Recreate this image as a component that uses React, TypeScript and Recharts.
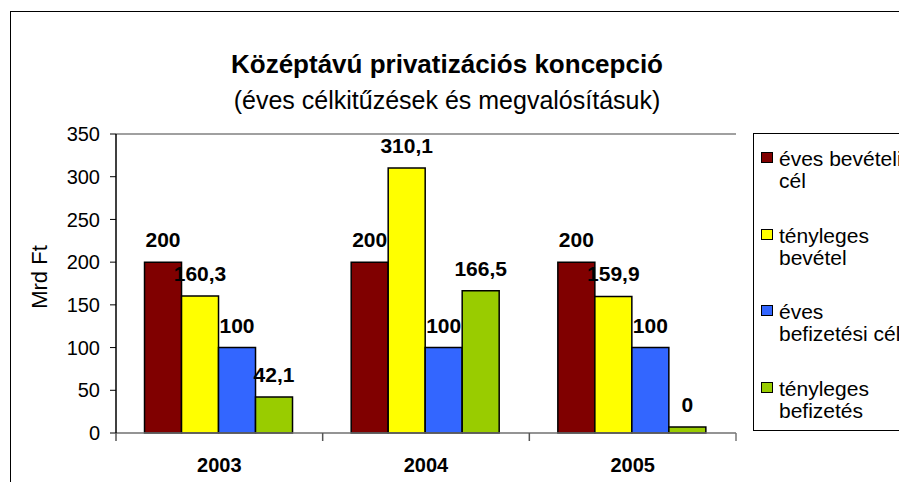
import React from 'react';
import { BarChart, Bar, XAxis, YAxis, LabelList, Legend, ReferenceLine } from 'recharts';

const categories = ['2003', '2004', '2005'];
const evesBeveteliCel = [200, 200, 200];
const tenylegesBevetel = [160.3, 310.1, 159.9];
const evesBefizetesiCel = [100, 100, 100];
const tenylegesBefizetes = [42.1, 166.5, 0];
const yTicks = [0, 50, 100, 150, 200, 250, 300, 350];

const seriesKeys = ['a', 'b', 'c', 'd'];
const seriesNames = ['éves bevételi cél', 'tényleges bevétel', 'éves befizetési cél', 'tényleges befizetés'];
const legendLines = [
  ['éves bevételi', 'cél'],
  ['tényleges', 'bevétel'],
  ['éves', 'befizetési cél'],
  ['tényleges', 'befizetés'],
];
const colors = ['#800000', '#FFFF00', '#3366FF', '#99CC00'];

const titleText = 'Középtávú privatizációs koncepció';
const subtitleText = '(éves célkitűzések és megvalósításuk)';
const yLabel = 'Mrd Ft';

const data = categories.map((c, i) => ({
  name: c,
  a: evesBeveteliCel[i],
  b: tenylegesBevetel[i],
  c: evesBefizetesiCel[i],
  d: tenylegesBefizetes[i],
}));

const FONT = 'Arial, "Liberation Sans", sans-serif';
const CHART_W = 899;
const CHART_H = 474;
const MARGIN = { top: 126, right: 171, bottom: 9, left: 48 };
const Y_AXIS_W = 60;
const PLOT_W = CHART_W - MARGIN.left - MARGIN.right - Y_AXIS_W;
const CAT_TICK_MARGIN = 25;
const TICK_LEN = 8;

const fmt = (v: any) => String(v).replace('.', ',');

const CatTick = (props: any) => {
  const { x, y, payload, index, visibleTicksCount } = props;
  const axisY = y - CAT_TICK_MARGIN;
  const half = payload && typeof payload.offset === 'number' && payload.offset > 0
    ? payload.offset
    : PLOT_W / categories.length / 2;
  const last = index === (visibleTicksCount ?? categories.length) - 1;
  return (
    <g>
      <line x1={x - half} x2={x - half} y1={axisY} y2={axisY + TICK_LEN} stroke="#555" strokeWidth={1.5} />
      {last && (
        <line x1={x + half} x2={x + half} y1={axisY} y2={axisY + TICK_LEN} stroke="#777" strokeWidth={1.5} />
      )}
      <text
        x={x}
        y={y}
        dy="0.71em"
        textAnchor="middle"
        style={{ fontFamily: FONT, fontSize: 20, fontWeight: 'bold', fill: '#000' }}
      >
        {payload.value}
      </text>
    </g>
  );
};

const renderLegend = () => (
  <div style={{ fontFamily: FONT, fontSize: 21, color: '#000', paddingTop: 14 }}>
    {legendLines.map((lines, i) => (
      <div key={i} style={{ height: 76.5, display: 'flex', flexDirection: 'row', alignItems: 'flex-start' }}>
        <div
          style={{
            width: 10,
            height: 9,
            marginTop: 4,
            marginLeft: 7,
            marginRight: 6,
            background: colors[i],
            border: '1px solid #000',
            flex: 'none',
          }}
        />
        <div style={{ lineHeight: '22px', whiteSpace: 'nowrap' }}>
          {lines.map((l, j) => (
            <div key={j}>{l}</div>
          ))}
        </div>
      </div>
    ))}
  </div>
);

export default function App() {
  return (
    <div style={{ position: 'relative', width: CHART_W, height: CHART_H, overflow: 'hidden', fontFamily: FONT }}>
      <div
        style={{
          position: 'absolute',
          left: 2,
          top: 3,
          width: 1000,
          height: 1000,
          border: '1px solid #000',
          boxSizing: 'border-box',
        }}
      />
      <div
        style={{
          position: 'absolute',
          left: 0,
          top: 41,
          width: 878,
          textAlign: 'center',
          fontWeight: 'bold',
          fontSize: 26,
          lineHeight: '30px',
          color: '#000',
        }}
      >
        {titleText}
      </div>
      <div
        style={{
          position: 'absolute',
          left: 0,
          top: 77,
          width: 878,
          textAlign: 'center',
          fontSize: 25,
          lineHeight: '30px',
          color: '#000',
        }}
      >
        {subtitleText}
      </div>
      <div
        style={{
          position: 'absolute',
          left: 32 - 50,
          top: 269 - 15,
          width: 100,
          height: 30,
          lineHeight: '30px',
          textAlign: 'center',
          fontSize: 22,
          color: '#000',
          transform: 'rotate(-90deg)',
        }}
      >
        {yLabel}
      </div>
      <div style={{ position: 'absolute', left: 0, top: 0 }}>
        <BarChart
          width={CHART_W}
          height={CHART_H}
          data={data}
          margin={MARGIN}
          barCategoryGap="13.8%"
          barGap={0}
        >
          <XAxis
            xAxisId="cat"
            dataKey="name"
            height={40}
            tickLine={false}
            tickSize={0}
            tickMargin={CAT_TICK_MARGIN}
            interval={0}
            axisLine={{ stroke: '#707070', strokeWidth: 1.5 }}
            tick={CatTick}
          />
          <XAxis
            xAxisId="b"
            type="number"
            domain={[0, 3]}
            allowDataOverflow
            height={0}
            hide
          />
          <YAxis
            width={Y_AXIS_W}
            domain={[0, 350]}
            ticks={yTicks}
            tickSize={6}
            tickMargin={10}
            interval={0}
            axisLine={{ stroke: '#000', strokeWidth: 1.5 }}
            tickLine={{ stroke: '#000', strokeWidth: 1 }}
            tick={{ fontFamily: FONT, fontSize: 20, fill: '#000' }}
          />
          <ReferenceLine y={350} stroke="#808080" strokeWidth={1.5} ifOverflow="extendDomain" />
          <ReferenceLine x={3} xAxisId="b" stroke="#808080" strokeWidth={1.5} />
          <Legend
            layout="horizontal"
            verticalAlign="middle"
            align="center"
            content={renderLegend}
            wrapperStyle={{
              position: 'absolute',
              left: 745,
              top: 125,
              width: 200,
              height: 298,
              border: '1px solid #000',
              boxSizing: 'border-box',
              background: '#fff',
            }}
          />
          {seriesKeys.map((k, i) => (
            <Bar
              key={k}
              xAxisId="cat"
              dataKey={k}
              name={seriesNames[i]}
              fill={colors[i]}
              stroke="#000"
              strokeWidth={1.5}
              minPointSize={6}
              isAnimationActive={false}
            >
              <LabelList
                dataKey={k}
                position="top"
                offset={15}
                formatter={fmt}
                style={{ fontFamily: FONT, fontSize: 21, fontWeight: 'bold', fill: '#000' }}
              />
            </Bar>
          ))}
        </BarChart>
      </div>
    </div>
  );
}
